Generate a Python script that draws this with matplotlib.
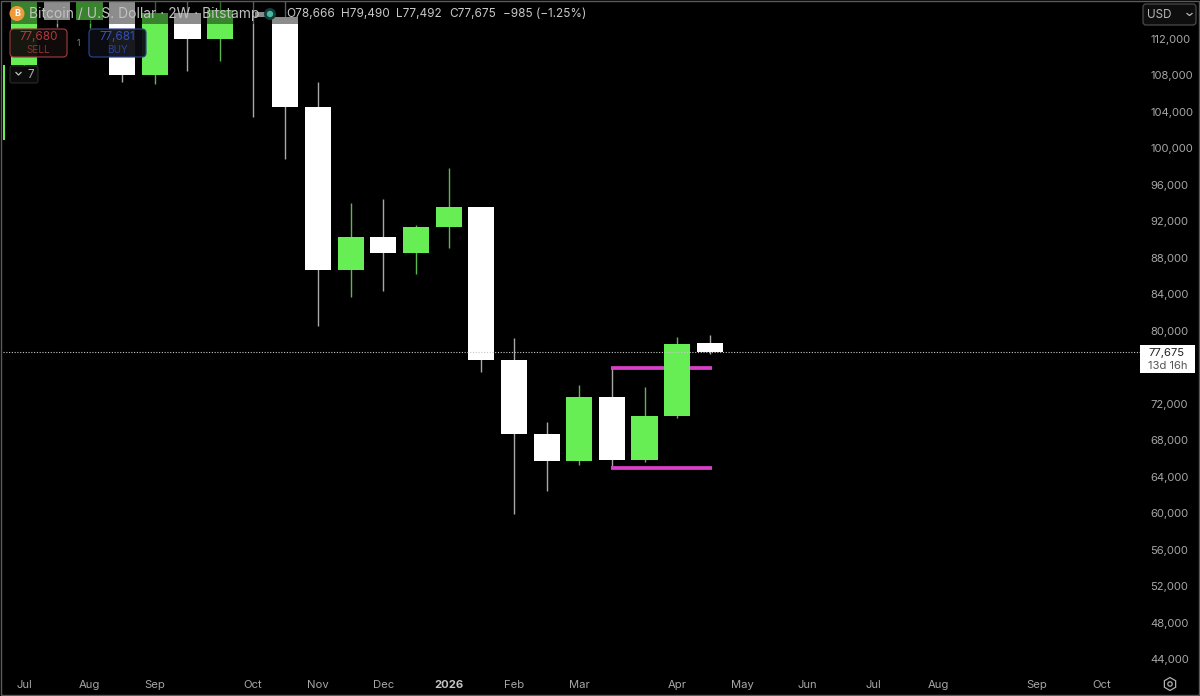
import matplotlib
matplotlib.use('Agg')
import matplotlib.pyplot as plt
from matplotlib.patches import Rectangle, FancyBboxPatch, Circle, RegularPolygon
import numpy as np

plt.rcParams['font.family'] = ['Inter', 'DejaVu Sans']

# two week candles, index 0 is the Jul label
idx = np.arange(-1, 22)
opens = [100920, 109150, 118500, 114080, 118000, 108050, 114850, 112000, 118000, 114410, 104540, 86660,
         90280, 88530, 91380, 93570, 76790, 68680, 65715, 72735, 65825, 70650, 78666]
closes = [109150, 118500, 114080, 118000, 108050, 114850, 112000, 115180, 116500, 104540, 86660, 90280,
          88530, 91380, 93570, 76790, 68680, 65715, 72735, 65825, 70650, 78550, 77675]
highs = [110000, 119000, 119000, 118500, 118500, 116500, 116500, 116500, 118500, 117000, 107280, 94010,
         94450, 91600, 97850, 93570, 79210, 69990, 74050, 75915, 73830, 79330, 79490]
lows = [100920, 108800, 113316, 113200, 107280, 107060, 108490, 109590, 103450, 98840, 80520, 83700,
        84360, 86225, 89080, 75480, 59900, 62425, 65275, 64950, 65605, 70430, 77492]
last_price = 77675
range_top = 75915
range_bottom = 64950
range_start = 17.97
range_end = 21.07

price_ticks = [44000, 48000, 52000, 56000, 60000, 64000, 68000, 72000, 80000, 84000, 88000, 92000,
               96000, 100000, 104000, 108000, 112000]
month_pos = [0, 2, 4, 7, 9, 11, 13, 15, 17, 20, 22, 24, 26, 28, 31, 33]
month_labels = ['Jul', 'Aug', 'Sep', 'Oct', 'Nov', 'Dec', '2026', 'Feb', 'Mar', 'Apr', 'May', 'Jun',
                'Jul', 'Aug', 'Sep', 'Oct']

GREEN = '#68ee55'
GREEN_WICK = '#5cb84e'
WHITE_WICK = '#a8a8a8'
TXT = '#a6a6a6'
W, H = 1200, 696

fig = plt.figure(figsize=(12, 6.96), dpi=100, facecolor='black')

# main panel, limits worked out from the tick pixels
left, right, top, bottom = 3, 1140, 2, 671
ax = fig.add_axes([left / W, 1 - bottom / H, (right - left) / W, (bottom - top) / H], facecolor='black')
px_x = 32.65
ax.set_xlim((left - 24.2) / px_x, (right - 24.2) / px_x)
px_y = 109.68
ax.set_ylim(112000 - (bottom - 39) * px_y, 112000 - (top - 39) * px_y)

for i in range(len(idx)):
    up = closes[i] >= opens[i]
    ax.vlines(idx[i], lows[i], highs[i], color=GREEN_WICK if up else WHITE_WICK, lw=1.0, zorder=2)
    b0, b1 = min(opens[i], closes[i]), max(opens[i], closes[i])
    ax.bar(idx[i], b1 - b0, bottom=b0, width=0.8, color=GREEN if up else 'white', lw=0, zorder=4)

ax.hlines([range_top, range_bottom], range_start, range_end, color='#d93fc8', lw=2.7, zorder=3)
ax.axhline(last_price, color='#c8c8c8', lw=0.8, ls=(0, (1, 1.5)), zorder=5)

for s in ax.spines.values():
    s.set_visible(False)
ax.yaxis.tick_right()
ax.set_yticks(price_ticks)
ax.set_yticklabels(['{:,}'.format(p) for p in price_ticks])
ax.set_xticks(month_pos)
ax.set_xticklabels(month_labels)
ax.tick_params(axis='y', length=0, pad=7.5, labelsize=8.1, labelcolor=TXT)
ax.tick_params(axis='x', length=0, pad=6.5, labelsize=8.1, labelcolor=TXT)
ax.get_xticklabels()[6].set_fontweight('bold')
ax.get_xticklabels()[6].set_color('#c4c4c4')

# overlay in pixel coordinates for the TradingView furniture
ov = fig.add_axes([0, 0, 1, 1], facecolor='none')
ov.set_xlim(0, W)
ov.set_ylim(H, 0)
ov.axis('off')

ov.add_patch(Rectangle((3, 2), 297, 22, color='black', alpha=0.45, lw=0, zorder=6))
ov.add_patch(Rectangle((255, 12), 13, 5, color='#8a8a8a', lw=0, zorder=6.5))
ov.add_patch(Circle((270, 14), 6, color='#123c36', lw=0, zorder=7))
ov.add_patch(Circle((270, 14), 3.2, color='#45b8a0', lw=0, zorder=7.5))
ov.add_patch(Circle((17, 13.5), 7.5, color='#ef9a3c', lw=0, zorder=7))
ov.text(17, 13.7, 'B', color='white', fontsize=6.5, fontweight='bold', ha='center', va='center', zorder=8)
ov.text(29, 14, 'Bitcoin / U.S. Dollar · 2W · Bitstamp', color='#c2c2c2', fontsize=9.95, va='center', zorder=8)
for x, s in [(286, 'O78,666'), (341, 'H79,490'), (396, 'L77,492'), (449, 'C77,675'), (503, '−985 (−1.25%)')]:
    ov.text(x, 14, s, color='#c8c8c8', fontsize=8.5, va='center', zorder=8)

ov.add_patch(FancyBboxPatch((10, 29), 57, 28, boxstyle='round,pad=0,rounding_size=4', fc='#120b0b',
                            ec='#9c3a3c', lw=0.9, alpha=0.95, zorder=7))
ov.text(38.5, 37, '77,680', color='#b5383c', fontsize=8.4, ha='center', va='center', zorder=8)
ov.text(38.5, 50, 'SELL', color='#8f3033', fontsize=7.2, ha='center', va='center', zorder=8)
ov.text(78, 43, '1', color='#8a8a8a', fontsize=6.2, ha='center', va='center', zorder=8)
ov.add_patch(FancyBboxPatch((89, 29), 57, 28, boxstyle='round,pad=0,rounding_size=4', fc='#0b0d14',
                            ec='#2c4390', lw=0.9, alpha=0.95, zorder=7))
ov.text(117.5, 37, '77,681', color='#3350b8', fontsize=8.4, ha='center', va='center', zorder=8)
ov.text(117.5, 50, 'BUY', color='#2a4296', fontsize=7.2, ha='center', va='center', zorder=8)

ov.add_patch(FancyBboxPatch((10, 66), 28, 17, boxstyle='round,pad=0,rounding_size=2', fc='#0b0b0b',
                            ec='#2a2a2a', lw=0.8, zorder=7))
ov.plot([16, 18.5, 21], [72.5, 75, 72.5], color='#c0c0c0', lw=0.9, zorder=8)
ov.text(30.5, 74.5, '7', color='#b0b0b0', fontsize=8.4, ha='center', va='center', zorder=8)

ov.add_patch(FancyBboxPatch((1143, 4), 53, 21, boxstyle='round,pad=0,rounding_size=3', fc='#0e0e0e',
                            ec='#4a4a4a', lw=0.9, zorder=7))
ov.text(1147, 14.5, 'USD', color='#b8b8b8', fontsize=8.4, va='center', zorder=8)
ov.plot([1187, 1189.5, 1192], [13.5, 15.5, 13.5], color='#b8b8b8', lw=0.9, zorder=8)

ov.add_patch(Rectangle((1140, 345), 55, 28, fc='white', ec='none', zorder=7))
ov.text(1148, 352.5, '77,675', color='#222222', fontsize=8.1, va='center', zorder=8)
ov.text(1148, 366, '13d 16h', color='#555555', fontsize=8.1, va='center', zorder=8)

ov.add_patch(RegularPolygon((1170, 684), 6, radius=6.5, fc='none', ec='#b0b0b0', lw=0.9, zorder=8))
ov.add_patch(Circle((1170, 684), 2.2, fc='none', ec='#b0b0b0', lw=0.9, zorder=8))

# outer window edge
ov.add_patch(Rectangle((1, 0.5), 1197.5, 694.5, fc='none', ec='#5a5a5a', lw=1.0, zorder=9))

fig.savefig('out.png', dpi=100, facecolor='black')
